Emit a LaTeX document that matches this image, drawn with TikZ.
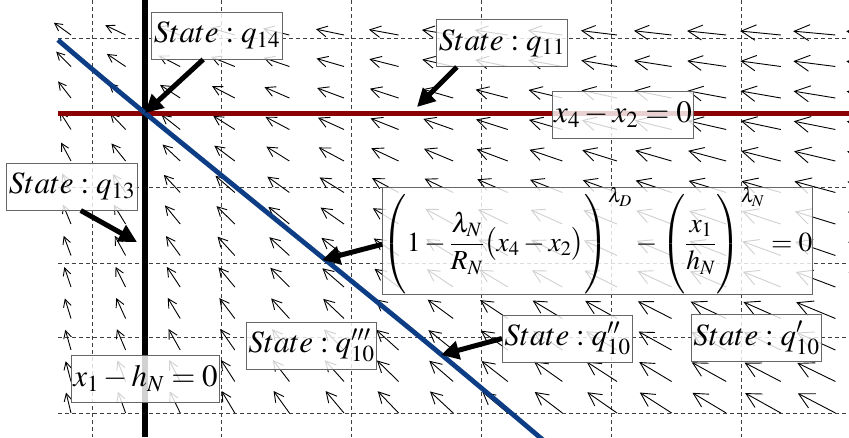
\documentclass[tikz,border=0pt]{standalone}
\usepackage{amsmath}
\usepackage{mathptmx}
\usetikzlibrary{arrows.meta}
\definecolor{nullred}{HTML}{8B0000}
\definecolor{nullblue}{HTML}{0D3D85}
\tikzset{
  lbl/.style     ={draw=black!60,line width=1pt,fill=white,fill opacity=0.82,
                   text opacity=1,inner sep=2pt,minimum height=47pt,
                   font=\fontsize{31}{36}\selectfont},
  gridline/.style={draw=black!75,line width=0.7pt,dash pattern=on 4pt off 3pt},
  field/.style   ={draw=black,line width=0.9pt},
  pointer/.style ={line width=5pt,-{Triangle[length=18pt,width=18pt]}}
}
\newcommand{\tallstrut}{\vrule height 38pt depth 38pt width 0pt}

\begin{document}
\begin{tikzpicture}[x=1pt,y=-1pt]
  \useasboundingbox (0,0) rectangle (849,437);
  \begin{scope}
    \clip (0,0) rectangle (849,437);
    % dashed grid
    \foreach \gx in {92,221,351,481,611,741}
      \draw[gridline] (\gx,0) -- (\gx,437);
    \foreach \gy in {38,113,187,263,337,413}
      \draw[gridline] (58,\gy) -- (849,\gy);
    % direction field
    \foreach \i in {0,...,15}{
      \foreach \j in {1,...,13}{
        \pgfmathsetmacro\tx{71+54.6*\i}
        \pgfmathsetmacro\ty{3.5+31.5*\j}
        \pgfmathsetmacro\dx{-40-\tx}
        \pgfmathsetmacro\dy{-45-\ty}
        \pgfmathsetmacro\len{19+0.028*\tx}
        \pgfmathsetmacro\nrm{veclen(\dx,\dy)}
        \pgfmathsetmacro\hx{\tx+\len*\dx/\nrm}
        \pgfmathsetmacro\hy{\ty+\len*\dy/\nrm}
        \pgfmathsetmacro\bl{0.36*\len}
        \pgfmathsetmacro\bw{1.05*\bl}
        \draw[field,-{Straight Barb[length=\bl pt,width=\bw pt]}]
          (\tx,\ty) -- (\hx,\hy);
      }
    }
    % switching surfaces
    \draw[nullred,line width=5pt] (58,113) -- (849,113);
    \draw[black,line width=5.5pt] (145,0) -- (145,437);
    \draw[nullblue,line width=4.8pt] plot[smooth]
      coordinates {(58,40) (145,113) (420,337) (543,440)};
  \end{scope}

  \coordinate (x0) at (145,113);
  \coordinate (p11) at (417,107);
  \coordinate (p13) at (137,242);
  \coordinate (peq) at (322,260);
  \coordinate (p10) at (441,355);

  \node[lbl] (s14) at (217,35.5) {$State:q_{14}$};
  \node[lbl] (s11) at (502,43) {$State:q_{11}$};
  \node[lbl] (s13) at (72,186.5) {$State:q_{13}$};
  \node[lbl] (red) at (623,114.5) {$x_4-x_2=0$};
  \node[lbl] (blk) at (145.5,378.5) {$x_1-h_N=0$};
  \node[lbl] (s10c) at (311.5,345.5) {$State:q'''_{10}$};
  \node[lbl] (s10b) at (567.5,338.5) {$State:q''_{10}$};
  \node[lbl] (s10a) at (756.5,338) {$State:q'_{10}$};
  \node[lbl,minimum height=107pt,minimum width=429pt,inner sep=0pt,
        font=\fontsize{27.5}{33}\selectfont] (eq) at (597.5,240.5)
    {$\left(\tallstrut 1-\dfrac{\lambda_N}{R_N}\bigl(x_4-x_2\bigr)\right)^{\lambda_D}
      -\left(\tallstrut\dfrac{x_1}{h_N}\right)^{\lambda_N}=0$};

  \draw[pointer] (s14.240) -- (x0);
  \draw[pointer] (s11.208) -- (p11);
  \draw[pointer] (s13.290) -- (p13);
  \draw[pointer] (eq.181) -- (peq);
  \draw[pointer] (s10b.west) -- (p10);
\end{tikzpicture}
\end{document}
